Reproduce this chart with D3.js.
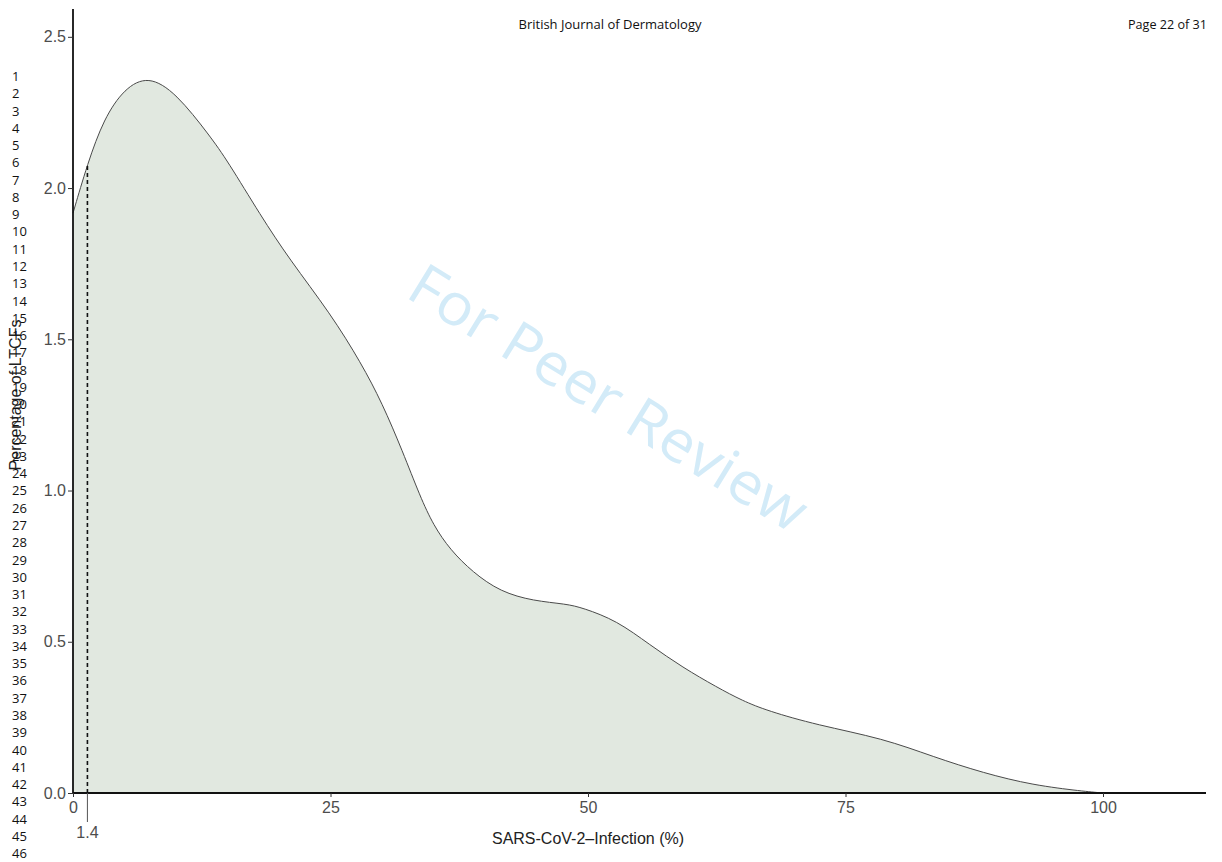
<!DOCTYPE html>
<html>
<head>
<meta charset="utf-8">
<script src="https://cdn.jsdelivr.net/npm/d3@7"></script>
<style>
  html, body { margin: 0; padding: 0; background: #ffffff; }
  svg { display: block; }
</style>
</head>
<body>
<svg id="chart" width="1222" height="862"></svg>
<script>
// ---- data ----
const infectionPct = [0, 1.4, 3, 5, 7.3, 10, 13.3, 15, 18.2, 21, 25, 28, 30, 32, 33.7, 35, 36.6, 38.8, 41.5, 44.7, 47.9, 49.5, 52.8, 56, 59.2, 62.5, 65, 67.4, 72.2, 78.7, 83.5, 88.4, 93.2, 98, 100];
const density = [1.917, 2.08, 2.23, 2.33, 2.372, 2.315, 2.172, 2.09, 1.91, 1.765, 1.585, 1.42, 1.29, 1.13, 0.98, 0.885, 0.805, 0.73, 0.665, 0.635, 0.625, 0.612, 0.57, 0.49, 0.415, 0.35, 0.305, 0.272, 0.225, 0.18, 0.12, 0.066, 0.026, 0.006, 0];
const xTicks = [0, 25, 50, 75, 100];
const yTicks = [0, 0.5, 1.0, 1.5, 2.0, 2.5];
const markerValue = 1.4;
const markerDensity = 2.076;
const lineNumbers = d3.range(1, 47);
const headerTitle = "British Journal of Dermatology";
const headerPage = "Page 22 of 31";
const xTitle = "SARS-CoV-2\u2013Infection (%)";
const yTitle = "Percentage of LTCFs";
const watermark = "For Peer Review";

// ---- layout ----
const svg = d3.select("#chart");
const x = d3.scaleLinear().domain([0, 110]).range([73, 1206]);
const y = d3.scaleLinear().domain([0, 2.592]).range([793, 9]);
const data = infectionPct.map((v, i) => ({ x: v, y: density[i] }));
const tickFont = "'Liberation Sans', Arial, Helvetica, sans-serif";

// watermark
svg.append("text")
  .attr("transform", "translate(606,402) rotate(31.5)")
  .attr("text-anchor", "middle")
  .attr("dominant-baseline", "middle")
  .attr("font-family", "'Open Sans', sans-serif")
  .attr("font-size", 58)
  .attr("fill", "#d3ebf8")
  .attr("textLength", 455)
  .attr("lengthAdjust", "spacingAndGlyphs")
  .text(watermark);

// area + line
const curve = d3.curveBasis;
svg.append("path")
  .datum(data)
  .attr("fill", "#e1e8e0")
  .attr("d", d3.area().x(d => x(d.x)).y0(y(0)).y1(d => y(d.y)).curve(curve));
svg.append("path")
  .datum(data)
  .attr("fill", "none")
  .attr("stroke", "#4a4a4a")
  .attr("stroke-width", 1)
  .attr("d", d3.line().x(d => x(d.x)).y(d => y(d.y)).curve(curve));

// dashed marker
svg.append("line")
  .attr("x1", x(markerValue)).attr("x2", x(markerValue))
  .attr("y1", y(0)).attr("y2", y(markerDensity))
  .attr("stroke", "#111").attr("stroke-width", 1.6)
  .attr("stroke-dasharray", "4,3");

// axes
const xAxis = svg.append("g")
  .attr("transform", `translate(0,${y(0)})`)
  .call(d3.axisBottom(x).tickValues(xTicks).tickSize(4).tickPadding(5).tickFormat(d3.format("d")));
const yAxis = svg.append("g")
  .attr("transform", `translate(${x(0)},0)`)
  .call(d3.axisLeft(y).tickValues(yTicks).tickSize(5).tickPadding(2).tickFormat(d3.format(".1f")));
[xAxis, yAxis].forEach(g => {
  g.select(".domain").attr("stroke", "#111").attr("stroke-width", 1.8);
  g.selectAll(".tick line").attr("stroke", "#333").attr("stroke-width", 1);
  g.selectAll(".tick text").attr("fill", "#4d4d4d").attr("font-size", 16).attr("font-family", tickFont);
});
xAxis.select(".domain").attr("d", `M${x(0)},0H${x(110)}`);
yAxis.select(".domain").attr("d", `M0,${y(0)}V${y(2.592)}`);

// extra 1.4 tick
svg.append("line")
  .attr("x1", x(markerValue)).attr("x2", x(markerValue))
  .attr("y1", y(0)).attr("y2", y(0) + 29)
  .attr("stroke", "#555").attr("stroke-width", 1);
svg.append("text")
  .attr("x", x(markerValue)).attr("y", y(0) + 45)
  .attr("text-anchor", "middle")
  .attr("font-family", tickFont).attr("font-size", 16).attr("fill", "#4d4d4d")
  .text(d3.format(".1f")(markerValue));

// axis titles
svg.append("text")
  .attr("x", x(50)).attr("y", 844)
  .attr("text-anchor", "middle")
  .attr("font-family", tickFont).attr("font-size", 16).attr("fill", "#222")
  .text(xTitle);
svg.append("text")
  .attr("transform", "translate(21,395) rotate(-90)")
  .attr("text-anchor", "middle")
  .attr("font-family", tickFont).attr("font-size", 16).attr("fill", "#222")
  .text(yTitle);

// line numbers
svg.append("g").selectAll("text")
  .data(lineNumbers)
  .join("text")
  .attr("x", 12)
  .attr("y", (d, i) => 81 + i * 17.27)
  .attr("font-family", "'Open Sans', sans-serif")
  .attr("font-size", 13)
  .attr("fill", "#111")
  .text(d => d);

// header
svg.append("text")
  .attr("x", 610).attr("y", 29)
  .attr("text-anchor", "middle")
  .attr("font-family", "'Liberation Sans Narrow', 'Open Sans', sans-serif")
  .attr("font-size", 13).attr("fill", "#111")
  .attr("textLength", 183).attr("lengthAdjust", "spacingAndGlyphs")
  .text(headerTitle);
svg.append("text")
  .attr("x", 1207).attr("y", 29)
  .attr("text-anchor", "end")
  .attr("font-family", "'Liberation Sans Narrow', 'Open Sans', sans-serif")
  .attr("font-size", 13).attr("fill", "#111")
  .attr("textLength", 79).attr("lengthAdjust", "spacingAndGlyphs")
  .text(headerPage);
</script>
</body>
</html>
